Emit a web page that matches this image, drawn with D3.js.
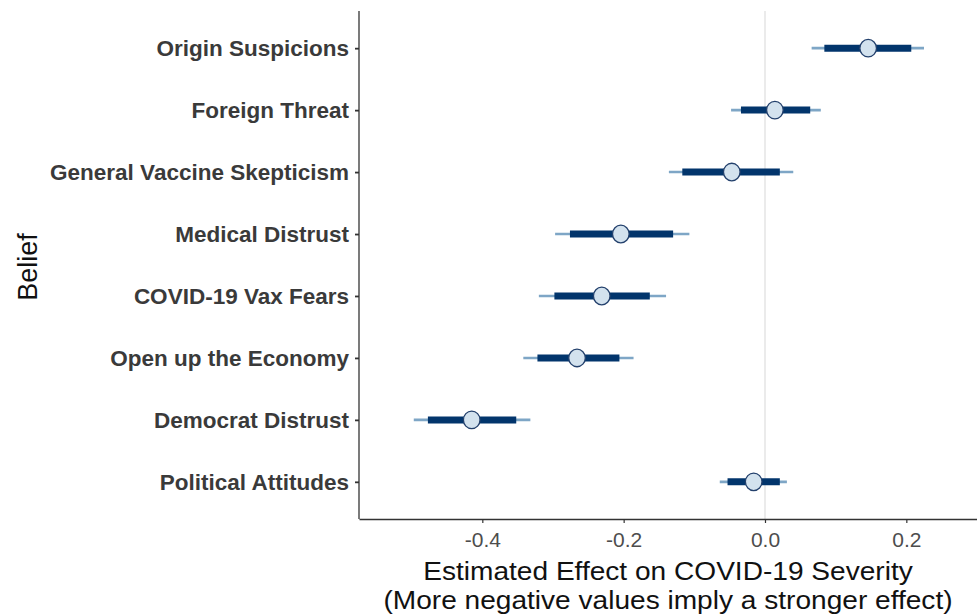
<!DOCTYPE html>
<html>
<head>
<meta charset="utf-8">
<script src="https://cdn.jsdelivr.net/npm/d3@7"></script>
<style>
  html, body { margin: 0; padding: 0; background: #fff; }
  svg { display: block; font-family: "Liberation Sans", Arial, Helvetica, sans-serif; }
</style>
</head>
<body>
<svg id="chart" width="977" height="615"></svg>
<script>
// Beliefs, top to bottom
const beliefs = [
  "Origin Suspicions",
  "Foreign Threat",
  "General Vaccine Skepticism",
  "Medical Distrust",
  "COVID-19 Vax Fears",
  "Open up the Economy",
  "Democrat Distrust",
  "Political Attitudes"
];
// Point estimates
const estimates = [0.146, 0.014, -0.047, -0.204, -0.231, -0.266, -0.415, -0.016];
// Inner (thick) interval
const innerLow  = [0.084, -0.034, -0.117, -0.276, -0.298, -0.322, -0.477, -0.053];
const innerHigh = [0.207,  0.064,  0.021, -0.130, -0.163, -0.206, -0.352,  0.021];
// Outer (thin) interval
const outerLow  = [0.066, -0.048, -0.136, -0.297, -0.320, -0.342, -0.497, -0.064];
const outerHigh = [0.225,  0.079,  0.040, -0.107, -0.140, -0.186, -0.332,  0.031];
// Axis ticks
const xTicks = [-0.4, -0.2, 0.0, 0.2];

const rows = beliefs.map((b, i) => ({
  belief: b, est: estimates[i],
  lo1: innerLow[i], hi1: innerHigh[i],
  lo2: outerLow[i], hi2: outerHigh[i]
}));

const svg = d3.select("#chart");
const plotL = 359, plotR = 977, plotT = 11, plotB = 519;

const x = d3.scaleLinear().domain([-0.5745, 0.3]).range([plotL, plotR]);
const y = d3.scalePoint().domain(beliefs).range([plotT, plotB]).padding(0.6);

// reference line at zero
svg.append("line")
  .attr("x1", x(0)).attr("x2", x(0))
  .attr("y1", plotT).attr("y2", plotB)
  .attr("stroke", "#dedede").attr("stroke-width", 1.2);

const g = svg.append("g");

// outer intervals
g.selectAll("line.outer").data(rows).join("line")
  .attr("class", "outer")
  .attr("x1", d => x(d.lo2)).attr("x2", d => x(d.hi2))
  .attr("y1", d => y(d.belief)).attr("y2", d => y(d.belief))
  .attr("stroke", "#7ea6c6").attr("stroke-width", 2.6);

// inner intervals
g.selectAll("line.inner").data(rows).join("line")
  .attr("class", "inner")
  .attr("x1", d => x(d.lo1)).attr("x2", d => x(d.hi1))
  .attr("y1", d => y(d.belief)).attr("y2", d => y(d.belief))
  .attr("stroke", "#02356c").attr("stroke-width", 7);

// point estimates
g.selectAll("ellipse.pt").data(rows).join("ellipse")
  .attr("class", "pt")
  .attr("cx", d => x(d.est)).attr("cy", d => y(d.belief))
  .attr("rx", 8.3).attr("ry", 8.8)
  .attr("fill", "#d3e2ee").attr("stroke", "#23406c").attr("stroke-width", 1.3);

// x axis
const xAxis = svg.append("g")
  .attr("transform", `translate(0,${plotB})`)
  .call(d3.axisBottom(x).tickValues(xTicks).tickFormat(d3.format(".1f")).tickSize(4).tickSizeOuter(0).tickPadding(9));
xAxis.select(".domain").attr("stroke", "#333").attr("stroke-width", 1.3);
xAxis.selectAll(".tick line").attr("stroke", "#333").attr("stroke-width", 1.2);
xAxis.selectAll(".tick text")
  .attr("fill", "#4d4d4d").attr("font-size", 21)
  .style("font-family", "Liberation Sans, Arial, sans-serif")
  .text(d => d3.format(".1f")(d).replace("−", "-"));

// y axis
const yAxis = svg.append("g")
  .attr("transform", `translate(${plotL},0)`)
  .call(d3.axisLeft(y).tickSize(4).tickSizeOuter(0).tickPadding(6));
yAxis.select(".domain").attr("stroke", "#333").attr("stroke-width", 1.3)
  .attr("d", `M0,${plotT}V${plotB}`);
yAxis.selectAll(".tick line").attr("stroke", "#333").attr("stroke-width", 1.8);
yAxis.selectAll(".tick text")
  .attr("fill", "#3a3a3a").attr("font-size", 22.5).attr("font-weight", "bold")
  .attr("dy", "0.34em")
  .style("font-family", "Liberation Sans, Arial, sans-serif");

// axis titles
const xMid = 668;
svg.append("text")
  .attr("transform", `translate(${xMid},580) scale(1.06,1)`)
  .attr("text-anchor", "middle").attr("font-size", 26.5).attr("fill", "#111")
  .text("Estimated Effect on COVID-19 Severity");
svg.append("text")
  .attr("transform", `translate(${xMid},609) scale(1.06,1)`)
  .attr("text-anchor", "middle").attr("font-size", 26.5).attr("fill", "#111")
  .text("(More negative values imply a stronger effect)");

svg.append("text")
  .attr("transform", `translate(37,267) rotate(-90)`)
  .attr("text-anchor", "middle").attr("font-size", 27).attr("fill", "#111")
  .text("Belief");
</script>
</body>
</html>
